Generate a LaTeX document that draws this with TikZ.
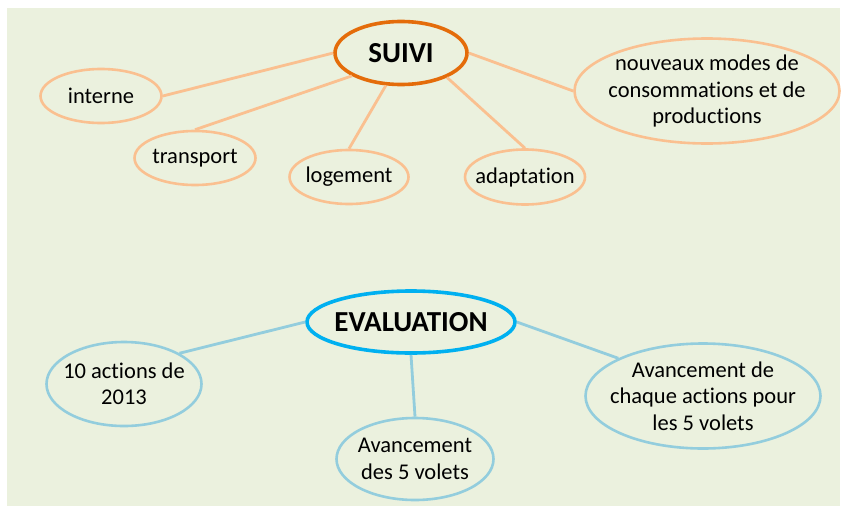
\documentclass[tikz,border=0pt]{standalone}
\usepackage{fontspec}
\setmainfont{Carlito}[Ligatures=NoCommon]
\usetikzlibrary{shapes.geometric}
\definecolor{paper}{HTML}{EBF1DE}
\definecolor{suividark}{HTML}{E46C0A}
\definecolor{suivilight}{HTML}{FAC090}
\definecolor{evaldark}{HTML}{00B0F0}
\definecolor{evallight}{HTML}{93CDDD}

\tikzset{
    topic/.style={ellipse, fill=paper, inner xsep=-14pt, inner ysep=-8pt, align=center},
    hub/.style={topic, line width=3.6pt, font=\fontsize{29}{34}\selectfont\bfseries},
    leaf/.style={topic, line width=2.6pt, font=\fontsize{22.5}{26.5}\selectfont},
    link/.style={line width=2.8pt}
}

\begin{document}
\begin{tikzpicture}[x=1pt, y=-1pt]
    \useasboundingbox (0,0) rectangle (842,506);
    \fill[paper] (7,8) rectangle (840,506);

    % suivi
    \node[hub, draw=suividark, minimum width=132pt, minimum height=63pt](suivi)      at (401,53)  {SUIVI};
    \node[leaf, draw=suivilight, minimum width=121pt, minimum height=54pt](interne)  at (101,96)  {interne};
    \node[leaf, draw=suivilight, minimum width=121pt, minimum height=54pt](transport) at (195,158) {transport};
    \node[leaf, draw=suivilight, minimum width=119pt, minimum height=54pt](logement) at (349,177) {logement};
    \node[leaf, draw=suivilight, minimum width=120pt, minimum height=55pt](adaptation) at (525,177) {adaptation};
    \node[leaf, draw=suivilight, minimum width=265pt, minimum height=105pt](modes)   at (707,91)
        {nouveaux modes de\\consommations et de\\productions};

    % evaluation
    \node[hub, draw=evaldark, minimum width=208pt, minimum height=62pt](evaluation)   at (411,322) {EVALUATION};
    \node[leaf, draw=evallight, minimum width=155pt, minimum height=84pt](actions)    at (124,384) {10 actions de\\2013};
    \node[leaf, draw=evallight, minimum width=157pt, minimum height=82pt](volets)     at (415,459) {Avancement\\des 5 volets};
    \node[leaf, draw=evallight, minimum width=235pt, minimum height=105pt](chaque)    at (703,396)
        {Avancement de\\chaque actions pour\\les 5 volets};

    \path[link, suivilight]
        (suivi.west) edge (interne.east)
        (suivi.205)  edge (transport.north)
        (suivi.245)  edge (logement.north)
        (suivi.332)  edge (adaptation.north)
        (suivi.east) edge (modes.west);
    \path[link, evallight]
        (evaluation.west)  edge (actions.29)
        (evaluation.south) edge (volets.north)
        (evaluation.east)  edge (chaque.156);
\end{tikzpicture}
\end{document}
